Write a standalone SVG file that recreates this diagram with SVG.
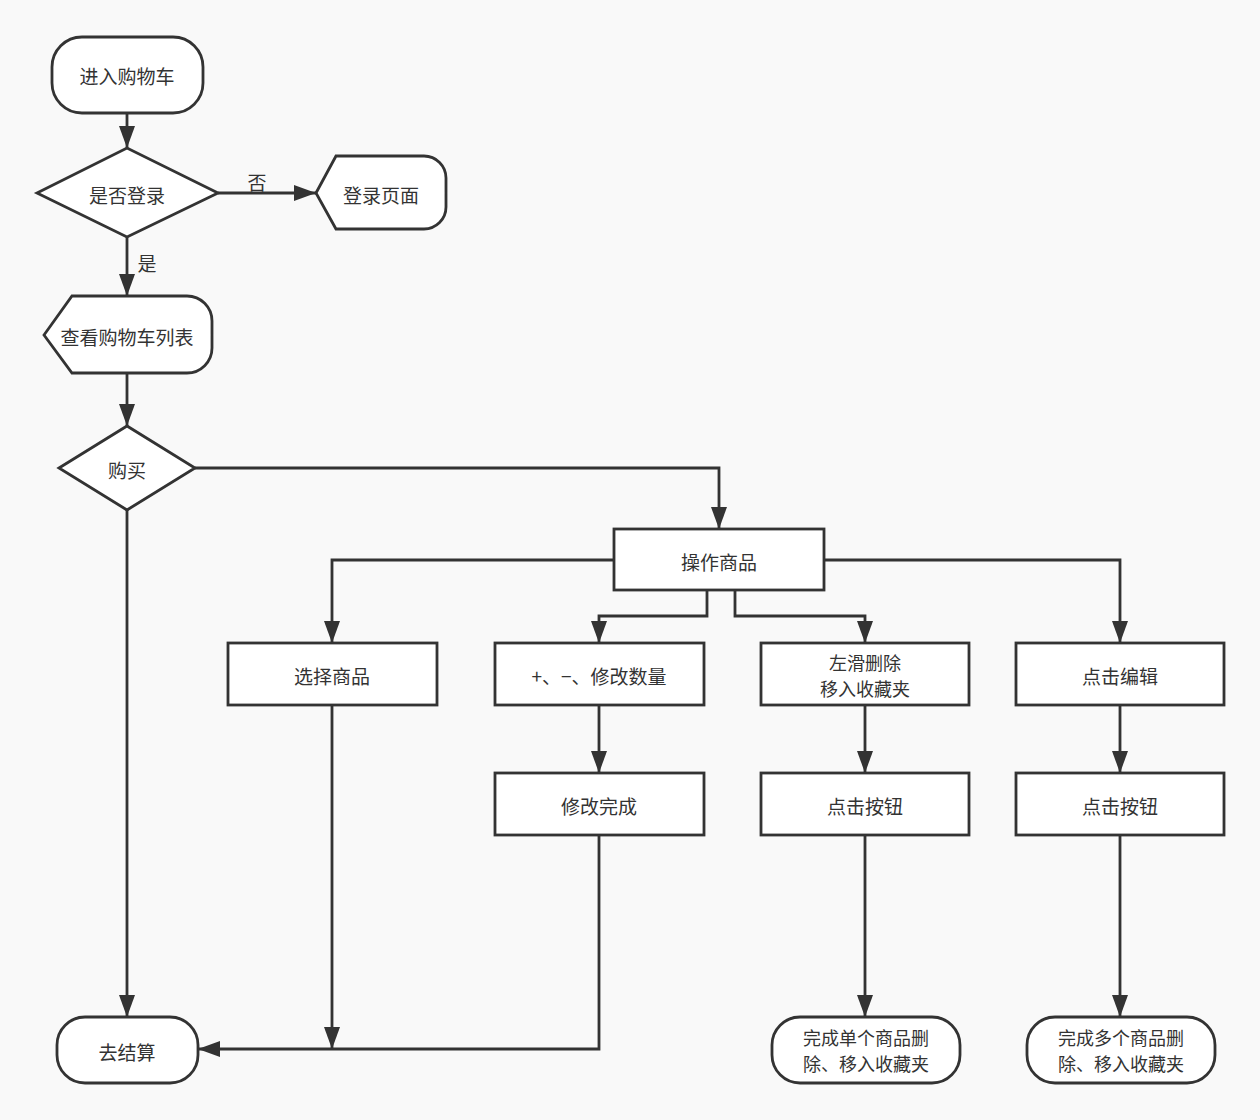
<svg xmlns="http://www.w3.org/2000/svg" width="1260" height="1120" viewBox="0 0 1260 1120">
<style>
.n{fill:#fff;stroke:#333;stroke-width:2.8}
.t{font-family:"Noto Sans CJK SC","Noto Sans",sans-serif;font-size:19px;fill:#333;text-anchor:middle;dominant-baseline:central}
.t2{font-size:18px}
.c{fill:none;stroke:#333;stroke-width:2.8}
</style>
<defs>
<marker id="a" markerUnits="userSpaceOnUse" markerWidth="22" markerHeight="16" refX="22" refY="8" orient="auto">
<path d="M0,0 L22,8 L0,16 Z" fill="#333"/>
</marker>
</defs>
<rect width="1260" height="1120" fill="#f9f9f9"/>
<g id="connectors">
<path class="c" d="M127,113 V148" marker-end="url(#a)"/>
<path class="c" d="M218,193 H316" marker-end="url(#a)"/>
<path class="c" d="M127,237 V296" marker-end="url(#a)"/>
<path class="c" d="M127,373 V426" marker-end="url(#a)"/>
<path class="c" d="M195,468 H719 V529" marker-end="url(#a)"/>
<path class="c" d="M127,510 V1017" marker-end="url(#a)"/>
<path class="c" d="M614,560 H332 V643" marker-end="url(#a)"/>
<path class="c" d="M707,590 V616 H599 V643" marker-end="url(#a)"/>
<path class="c" d="M735,590 V616 H865 V643" marker-end="url(#a)"/>
<path class="c" d="M824,560 H1120 V643" marker-end="url(#a)"/>
<path class="c" d="M332,705 V1049" marker-end="url(#a)"/>
<path class="c" d="M599,705 V773" marker-end="url(#a)"/>
<path class="c" d="M599,835 V1049 H198" marker-end="url(#a)"/>
<path class="c" d="M865,705 V773" marker-end="url(#a)"/>
<path class="c" d="M865,835 V1017" marker-end="url(#a)"/>
<path class="c" d="M1120,705 V773" marker-end="url(#a)"/>
<path class="c" d="M1120,835 V1017" marker-end="url(#a)"/>
<text class="t" x="257" y="181">否</text>
<text class="t" x="147" y="262">是</text>
</g>
<g id="n1"><rect class="n" x="52" y="37" width="151" height="76" rx="30"/><text class="t" x="127" y="75">进入购物车</text></g>
<g id="n2"><path class="n" d="M37,193 L127,148 L218,193 L127,237 Z"/><text class="t" x="127" y="194">是否登录</text></g>
<g id="n3"><path class="n" d="M316,193 L336,156 H424 A22,22 0 0 1 446,178 V207 A22,22 0 0 1 424,229 H336 Z"/><text class="t" x="381" y="194">登录页面</text></g>
<g id="n4"><path class="n" d="M44,335 L72,296 H187 A25,25 0 0 1 212,321 V348 A25,25 0 0 1 187,373 H72 Z"/><text class="t" x="127" y="336">查看购物车列表</text></g>
<g id="n5"><path class="n" d="M59,468 L127,426 L195,468 L127,510 Z"/><text class="t" x="127" y="469">购买</text></g>
<g id="n6"><rect class="n" x="614" y="529" width="210" height="61"/><text class="t" x="719" y="561">操作商品</text></g>
<g id="n7"><rect class="n" x="228" y="643" width="209" height="62"/><text class="t" x="332" y="675">选择商品</text></g>
<g id="n8"><rect class="n" x="495" y="643" width="209" height="62"/><text class="t" x="599" y="675">+、−、修改数量</text></g>
<g id="n9"><rect class="n" x="761" y="643" width="208" height="62"/><text class="t t2" x="865" y="662"><tspan x="865" y="662">左滑删除</tspan><tspan x="865" y="688">移入收藏夹</tspan></text></g>
<g id="n10"><rect class="n" x="1016" y="643" width="208" height="62"/><text class="t" x="1120" y="675">点击编辑</text></g>
<g id="n11"><rect class="n" x="495" y="773" width="209" height="62"/><text class="t" x="599" y="805">修改完成</text></g>
<g id="n12"><rect class="n" x="761" y="773" width="208" height="62"/><text class="t" x="865" y="805">点击按钮</text></g>
<g id="n13"><rect class="n" x="1016" y="773" width="208" height="62"/><text class="t" x="1120" y="805">点击按钮</text></g>
<g id="n14"><rect class="n" x="57" y="1017" width="141" height="66" rx="28"/><text class="t" x="127" y="1051">去结算</text></g>
<g id="n15"><rect class="n" x="772" y="1017" width="188" height="66" rx="28"/><text class="t t2" x="866" y="1037"><tspan x="866" y="1037">完成单个商品删</tspan><tspan x="866" y="1063">除、移入收藏夹</tspan></text></g>
<g id="n16"><rect class="n" x="1027" y="1017" width="188" height="66" rx="28"/><text class="t t2" x="1121" y="1037"><tspan x="1121" y="1037">完成多个商品删</tspan><tspan x="1121" y="1063">除、移入收藏夹</tspan></text></g>
</svg>
